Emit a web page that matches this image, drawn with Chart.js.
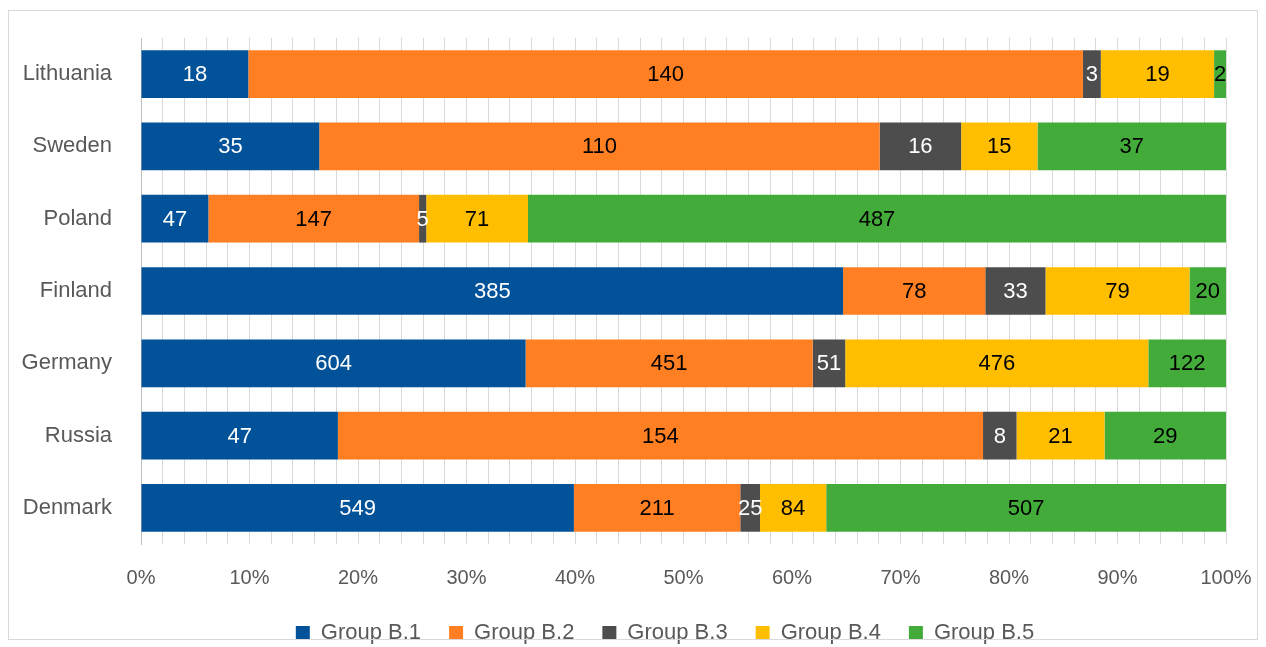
<!DOCTYPE html>
<html>
<head>
<meta charset="utf-8">
<script src="https://cdn.jsdelivr.net/npm/chart.js@4"></script>
<style>
  html, body { margin: 0; padding: 0; background: #ffffff; }
  #wrap { position: relative; width: 1266px; height: 647px; }
  #frame { position: absolute; left: 8px; top: 10px; width: 1250px; height: 630px; border: 1px solid #d9d9d9; box-sizing: border-box; pointer-events: none; }
  canvas { position: absolute; left: 0; top: 0; }
</style>
</head>
<body>
<div id="wrap">
  <canvas id="c" width="1266" height="647"></canvas>
  <div id="frame"></div>
</div>
<script>
const categories = ["Lithuania", "Sweden", "Poland", "Finland", "Germany", "Russia", "Denmark"];
const seriesNames = ["Group B.1", "Group B.2", "Group B.3", "Group B.4", "Group B.5"];
const groupB1 = [18, 35, 47, 385, 604, 47, 549];
const groupB2 = [140, 110, 147, 78, 451, 154, 211];
const groupB3 = [3, 16, 5, 33, 51, 8, 25];
const groupB4 = [19, 15, 71, 79, 476, 21, 84];
const groupB5 = [2, 37, 487, 20, 122, 29, 507];
const tickValues = [0, 10, 20, 30, 40, 50, 60, 70, 80, 90, 100];

const seriesColors = ["#02529A", "#FF7F22", "#4D4D4D", "#FFBF00", "#43AB3A"];
const labelColors = ["#ffffff", "#000000", "#ffffff", "#000000", "#000000"];
const counts = [groupB1, groupB2, groupB3, groupB4, groupB5];
const totals = categories.map((_, i) => counts.reduce((s, arr) => s + arr[i], 0));

const FONT = "'Liberation Sans', Arial, sans-serif";

const datasets = counts.map((arr, k) => ({
  label: seriesNames[k],
  data: arr.map((v, i) => v / totals[i] * 100),
  rawCounts: arr,
  backgroundColor: seriesColors[k],
  borderWidth: 0,
  categoryPercentage: 1.0,
  barPercentage: 0.66
}));

const valueLabels = {
  id: 'valueLabels',
  afterDatasetsDraw(chart) {
    const ctx = chart.ctx;
    ctx.save();
    ctx.font = "22px " + FONT;
    ctx.textAlign = 'center';
    ctx.textBaseline = 'middle';
    chart.data.datasets.forEach((ds, k) => {
      const meta = chart.getDatasetMeta(k);
      meta.data.forEach((bar, i) => {
        const x = (bar.x + bar.base) / 2;
        ctx.fillStyle = labelColors[k];
        ctx.fillText(String(ds.rawCounts[i]), x, bar.y + 1);
      });
    });
    ctx.restore();
  }
};

const legendShift = {
  id: 'legendShift',
  afterLayout(chart) {
    if (chart.legend) {
      chart.legend.left += 52;
      chart.legend.right += 52;
    }
  }
};

function zeroPad(scale) {
  scale.paddingLeft = 0;
  scale.paddingRight = 0;
  scale.paddingTop = 0;
  scale.paddingBottom = 0;
}

new Chart(document.getElementById('c'), {
  type: 'bar',
  data: { labels: categories, datasets: datasets },
  plugins: [valueLabels, legendShift],
  options: {
    indexAxis: 'y',
    responsive: false,
    animation: false,
    layout: { padding: { top: 38, right: 40, left: 0, bottom: -7 } },
    scales: {
      x: {
        stacked: true,
        min: 0,
        max: 100,
        afterBuildTicks(scale) {
          const t = [];
          for (let v = 0; v <= 100; v += 2) t.push({ value: v });
          scale.ticks = t;
        },
        afterFit(scale) { scale.height = 50; zeroPad(scale); },
        grid: { color: '#d9d9d9', lineWidth: 1, drawTicks: false },
        border: { display: false },
        ticks: {
          autoSkip: false,
          maxRotation: 0,
          padding: 22,
          color: '#595959',
          font: { family: FONT, size: 20 },
          callback: (v) => tickValues.includes(v) ? v + '%' : ''
        }
      },
      y: {
        stacked: true,
        afterFit(scale) { scale.width = 141; zeroPad(scale); },
        grid: { display: false, drawTicks: false },
        border: { display: true, color: '#bfbfbf', width: 1 },
        ticks: {
          padding: 29,
          color: '#595959',
          font: { family: FONT, size: 22 }
        }
      }
    },
    plugins: {
      legend: {
        position: 'bottom',
        labels: {
          boxWidth: 14,
          boxHeight: 14,
          padding: 28,
          color: '#595959',
          font: { family: FONT, size: 22 }
        }
      },
      tooltip: { enabled: false }
    }
  }
});
</script>
</body>
</html>
